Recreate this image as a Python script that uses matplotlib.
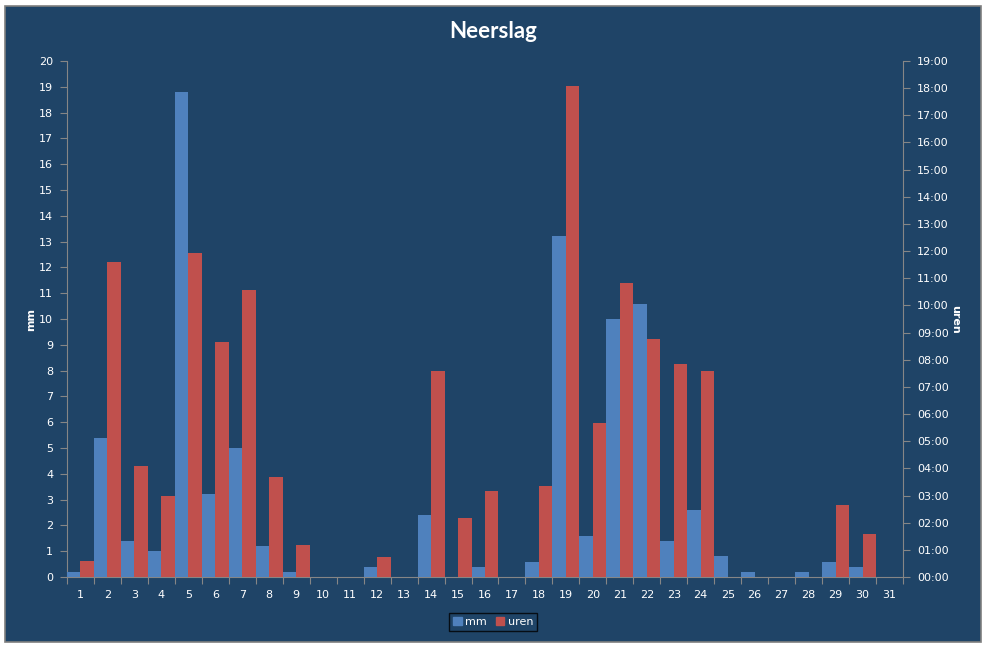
import matplotlib
matplotlib.use("Agg")
import matplotlib.pyplot as plt
from matplotlib.patches import Rectangle, Patch
from matplotlib.ticker import FixedLocator, FuncFormatter

days = list(range(1, 32))
mm = [0.2, 5.4, 1.4, 1.0, 18.8, 3.2, 5.0, 1.2, 0.2, 0, 0, 0.4, 0, 2.4, 0, 0.4,
      0, 0.6, 13.2, 1.6, 10.0, 10.6, 1.4, 2.6, 0.8, 0.2, 0, 0.2, 0.6, 0.4, 0]
uren = ["00:35", "11:35", "04:05", "03:00", "11:55", "08:40", "10:35", "03:40",
        "01:10", "00:00", "00:00", "00:45", "00:00", "07:35", "02:10", "03:10",
        "00:00", "03:20", "18:05", "05:40", "10:50", "08:45", "07:50", "07:35",
        "00:00", "00:00", "00:00", "00:00", "02:40", "01:35", "00:00"]
uren_h = [int(s[:2]) + int(s[3:]) / 60 for s in uren]

BG = "#1F4467"
BLUE = "#4F81BD"
RED = "#C0504D"
AXC = "#868686"
TXT = "white"

W, H = 987, 648
fig = plt.figure(figsize=(W / 100, H / 100), dpi=100, facecolor="white")
fig.patches.append(Rectangle((5 / W, 6 / H), 976 / W, 636 / H, transform=fig.transFigure,
                             facecolor=BG, edgecolor="#7F7F7F", linewidth=1.2, zorder=-10))

ax = fig.add_axes([67 / W, 1 - 577 / H, (903 - 67) / W, (577 - 61) / H])
ax.set_facecolor("none")
ax2 = ax.twinx()
ax2.set_facecolor("none")

x = days
ax.bar([d - 0.25 for d in x], mm, width=0.5, color=BLUE, zorder=3)
ax2.bar([d + 0.25 for d in x], uren_h, width=0.5, color=RED, zorder=3)

ax.set_xlim(0.5, 31.5)
ax.set_ylim(0, 20)
ax2.set_ylim(0, 19)

ax.set_yticks(range(0, 21))
ax2.set_yticks(range(0, 20))
ax2.yaxis.set_major_formatter(FuncFormatter(lambda v, p: f"{int(round(v)):02d}:00"))

ax.xaxis.set_major_locator(FixedLocator([d + 0.5 for d in range(0, 32)]))
ax.xaxis.set_major_formatter(FuncFormatter(lambda v, p: ""))
ax.xaxis.set_minor_locator(FixedLocator(days))
ax.xaxis.set_minor_formatter(FuncFormatter(lambda v, p: f"{int(round(v))}"))

for a in (ax, ax2):
    for s in a.spines.values():
        s.set_color(AXC)
    a.spines["top"].set_visible(False)
ax.spines["right"].set_visible(False)
ax2.spines["left"].set_visible(False)
ax2.spines["bottom"].set_visible(False)

ax.tick_params(axis="x", which="major", length=5, color=AXC, direction="out")
ax.tick_params(axis="x", which="minor", length=0, labelsize=8, labelcolor=TXT, pad=9)
ax.tick_params(axis="y", length=5, color=AXC, labelsize=8, labelcolor=TXT, pad=5)
ax2.tick_params(axis="y", length=5, color=AXC, labelsize=8, labelcolor=TXT, pad=5)

fig.text(493 / W, 1 - 32 / H, "Neerslag", ha="center", va="center", color=TXT,
         fontsize=16, fontweight="bold", family="Lato")
fig.text(31 / W, 1 - 319 / H, "mm", ha="center", va="center", rotation=90,
         color=TXT, fontsize=8, fontweight="bold")
fig.text(955 / W, 1 - 319 / H, "uren", ha="center", va="center", rotation=-90,
         color=TXT, fontsize=8, fontweight="bold")

handles = [Patch(color=BLUE, label="mm"), Patch(color=RED, label="uren")]
leg = fig.legend(handles=handles, loc="center", bbox_to_anchor=(493 / W, 1 - 622 / H),
                 ncol=2, frameon=True, fontsize=8, handlelength=0.8, handleheight=0.8,
                 handletextpad=0.3, columnspacing=0.8, borderpad=0.35, fancybox=False)
leg.get_frame().set_facecolor(BG)
leg.get_frame().set_edgecolor("black")
leg.get_frame().set_linewidth(1.0)
for t in leg.get_texts():
    t.set_color(TXT)

fig.savefig("out.png", dpi=100, facecolor="white")
